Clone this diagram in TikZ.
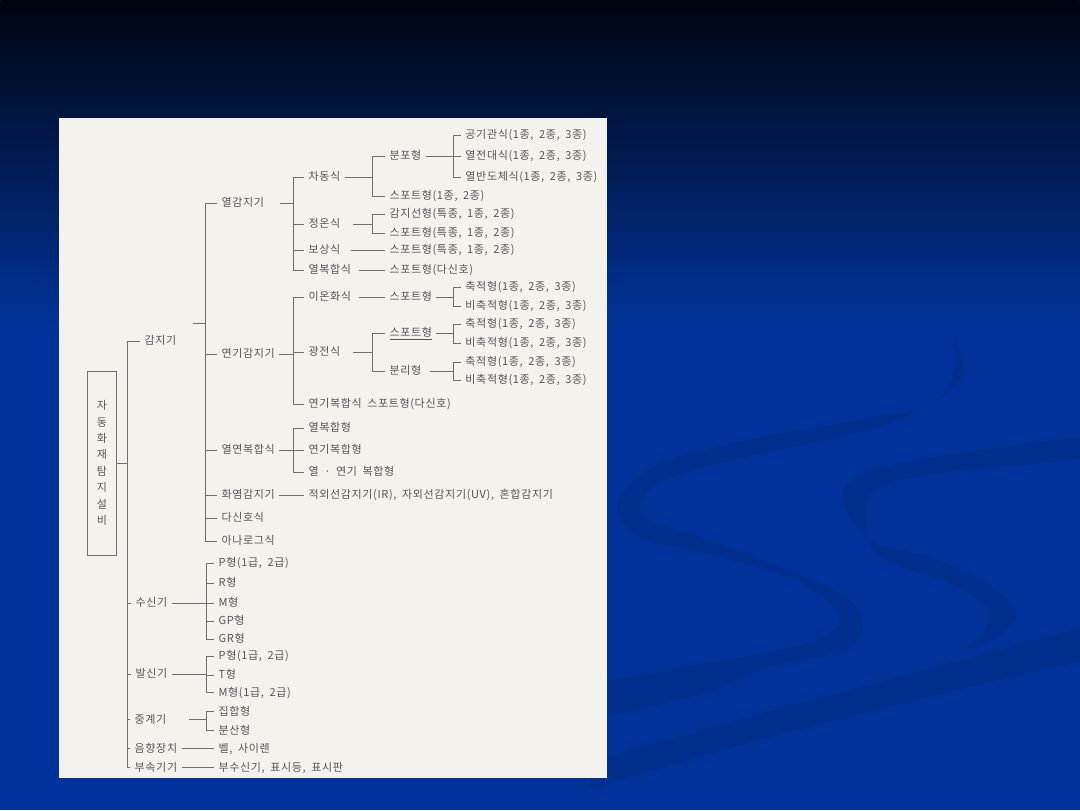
\documentclass[tikz,border=0pt]{standalone}
\usepackage{fontspec}
\newfontfamily\kr[LetterSpace=6,WordSpace=1.8]{Noto Sans CJK KR}
\usetikzlibrary{positioning}
\definecolor{bgtop}{HTML}{00040F}
\definecolor{bgblue}{HTML}{003399}
\definecolor{paper}{HTML}{F4F2ED}
\definecolor{ink}{HTML}{555555}
\definecolor{rule}{HTML}{707070}

\begin{document}
\begin{tikzpicture}[x=1pt,y=-1pt,line width=0.8pt,
		lbl/.style={anchor=west,inner xsep=4pt,inner ysep=0pt,text height=9pt,text depth=2pt,
			text=ink,font=\kr\fontsize{11}{13}\selectfont},
		swirl/.style={fill=black,fill opacity=0.07}]
		\tikzstyle{every path}=[draw=rule]
		\useasboundingbox (0,0) rectangle (1080,810);
		
		% background and swirls
		\fill[bgblue,draw=none] (0,0) rectangle (1080,810);
		\shade[top color=bgtop,bottom color=bgblue,draw=none] (0,0) rectangle (1080,327);
		\fill[swirl,draw=none] plot[smooth cycle,tension=0.55] coordinates {
			(952,333) (964,372) (930,405) (867,418) (733,443) (650,468) (617,507) (645,540)
			(700,552) (800,582) (840,620) (800,645) (680,668) (590,687)
			(590,717) (700,695) (767,668) (845,650) (863,620) (830,588) (700,537) (655,523)
			(640,507) (660,482) (733,460) (867,430) (938,400) (956,360)};
		\fill[swirl,draw=none] plot[smooth cycle,tension=0.55] coordinates {
			(1090,437) (933,457) (860,475) (843,500) (870,540) (933,558) (990,585) (1017,613)
			(1000,636) (967,650) (990,622) (985,605) (950,583) (880,557) (866,522) (875,490)
			(933,474) (1090,457)};
		\fill[swirl,draw=none] (590,762) .. controls (760,712) and (930,670) .. (1090,625)
			-- (1090,660) .. controls (930,695) and (760,737) .. (590,790) -- cycle;
		
		% the scanned page
		\fill[paper,draw=none] (59,118) rectangle (607,778);
		
		% nodes
		\node[draw=rule,minimum width=29pt,minimum height=184pt,inner sep=0pt,align=center,text=ink,
			font=\kr\fontsize{11}{16.4}\selectfont] (R) at (101.5,463) {자\\동\\화\\재\\탐\\지\\설\\비};
		
		\node[lbl] (A) at (140,341) {감지기};
		\node[lbl] (B) at (131,603) {수신기};
		\node[lbl] (C) at (131,674) {발신기};
		\node[lbl] (D) at (130,720) {중계기};
		\node[lbl] (E) at (130,749) {음향장치};
		\node[lbl] (F) at (130,768) {부속기기};
		
		\node[lbl] (A1) at (217,203) {열감지기};
		\node[lbl] (A2) at (217,354) {연기감지기};
		\node[lbl] (A3) at (217,450) {열연복합식};
		\node[lbl] (A4) at (217,495) {화염감지기};
		\node[lbl] (A5) at (217,518) {다신호식};
		\node[lbl] (A6) at (217,541) {아나로그식};
		
		\node[lbl] (A11) at (304,177) {차동식};
		\node[lbl] (A12) at (304,224) {정온식};
		\node[lbl] (A13) at (304,250) {보상식};
		\node[lbl] (A14) at (304,270) {열복합식};
		\node[lbl] (A111) at (385,156) {분포형};
		\node[lbl] (A112) at (385,196) {스포트형(1종, 2종)};
		\node[lbl] (A1111) at (461,135) {공기관식(1종, 2종, 3종)};
		\node[lbl] (A1112) at (461,156) {열전대식(1종, 2종, 3종)};
		\node[lbl] (A1113) at (461,177) {열반도체식(1종, 2종, 3종)};
		\node[lbl] (A121) at (385,214) {감지선형(특종, 1종, 2종)};
		\node[lbl] (A122) at (385,233) {스포트형(특종, 1종, 2종)};
		\node[lbl] (A131) at (385,250) {스포트형(특종, 1종, 2종)};
		\node[lbl] (A141) at (385,270) {스포트형(다신호)};
		
		\node[lbl] (A21) at (304,297) {이온화식};
		\node[lbl] (A22) at (304,352) {광전식};
		\node[lbl] (A23) at (304,404) {연기복합식\enspace 스포트형(다신호)};
		\node[lbl] (A211) at (385,297) {스포트형};
		\node[lbl] (A2111) at (461,287) {축적형(1종, 2종, 3종)};
		\node[lbl] (A2112) at (461,306) {비축적형(1종, 2종, 3종)};
		\node[lbl] (A221) at (385,333) {\underline{스포트형}};
		\node[lbl] (A222) at (385,371) {분리형};
		\node[lbl] (A2211) at (461,324) {축적형(1종, 2종, 3종)};
		\node[lbl] (A2212) at (461,343) {비축적형(1종, 2종, 3종)};
		\node[lbl] (A2221) at (461,362) {축적형(1종, 2종, 3종)};
		\node[lbl] (A2222) at (461,380) {비축적형(1종, 2종, 3종)};
		
		\node[lbl] (A31) at (304,428) {열복합형};
		\node[lbl] (A32) at (304,450) {연기복합형};
		\node[lbl] (A33) at (304,472) {열 · 연기 복합형};
		\node[lbl] (A41) at (304,495) {적외선감지기(IR), 자외선감지기(UV), 혼합감지기};
		
		\node[lbl] (B1) at (214,563) {P형(1급, 2급)};
		\node[lbl] (B2) at (214,583) {R형};
		\node[lbl] (B3) at (214,603) {M형};
		\node[lbl] (B4) at (214,621) {GP형};
		\node[lbl] (B5) at (214,639) {GR형};
		\node[lbl] (C1) at (214,656) {P형(1급, 2급)};
		\node[lbl] (C2) at (214,675) {T형};
		\node[lbl] (C3) at (214,693) {M형(1급, 2급)};
		\node[lbl] (D1) at (214,712) {집합형};
		\node[lbl] (D2) at (214,731) {분산형};
		\node[lbl] (E1) at (214,749) {벨, 사이렌};
		\node[lbl] (F1) at (214,768) {부수신기, 표시등, 표시판};
		
		% bracket columns
		\coordinate (m0) at (127,0);
		\coordinate (b1) at (205,0);
		\coordinate (b2) at (293,0);
		\coordinate (b3) at (372,0);
		\coordinate (b4) at (453,0);
		\coordinate (b5) at (206,0);
		\coordinate (A0) at (193,323);
		
		% connectors
		\foreach \c in {A,B,C,D,E,F} \draw (R.east) -- (R.east -| m0) |- (\c.west);
		\foreach \c in {A1,A2,A3,A4,A5,A6} \draw (A0) -- (A0 -| b1) |- (\c.west);
		\foreach \c in {A11,A12,A13,A14} \draw[shorten <=12pt] (A1.east) -- (A1.east -| b2) |- (\c.west);
		\foreach \c in {A111,A112} \draw (A11.east) -- (A11.east -| b3) |- (\c.west);
		\foreach \c in {A1111,A1112,A1113} \draw (A111.east) -- (A111.east -| b4) |- (\c.west);
		\foreach \c in {A121,A122} \draw[shorten <=8pt] (A12.east) -- (A12.east -| b3) |- (\c.west);
		\draw[shorten <=6pt] (A13.east) -- (A131.west);
		\draw[shorten <=4pt] (A14.east) -- (A141.west);
		\foreach \c in {A21,A22,A23} \draw (A2.east) -- (A2.east -| b2) |- (\c.west);
		\draw[shorten <=4pt] (A21.east) -- (A211.west);
		\foreach \c in {A2111,A2112} \draw (A211.east) -- (A211.east -| b4) |- (\c.west);
		\foreach \c in {A221,A222} \draw[shorten <=8pt] (A22.east) -- (A22.east -| b3) |- (\c.west);
		\foreach \c in {A2211,A2212} \draw (A221.east) -- (A221.east -| b4) |- (\c.west);
		\foreach \c in {A2221,A2222} \draw[shorten <=4pt] (A222.east) -- (A222.east -| b4) |- (\c.west);
		\foreach \c in {A31,A32,A33} \draw (A3.east) -- (A3.east -| b2) |- (\c.west);
		\draw (A4.east) -- (A41.west);
		\foreach \c in {B1,B2,B3,B4,B5} \draw (B.east) -- (B.east -| b5) |- (\c.west);
		\foreach \c in {C1,C2,C3} \draw (C.east) -- (C.east -| b5) |- (\c.west);
		\foreach \c in {D1,D2} \draw[shorten <=18pt] (D.east) -- (D.east -| b5) |- (\c.west);
		\draw (E.east) -- (E1.west);
		\draw (F.east) -- (F1.west);
\end{tikzpicture}
\end{document}
